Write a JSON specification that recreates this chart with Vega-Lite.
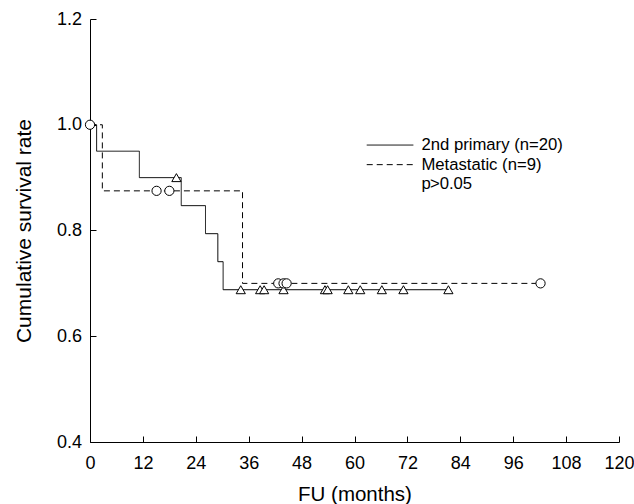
{
  "$schema": "https://vega.github.io/schema/vega-lite/v6.json",
  "width": 529,
  "height": 423,
  "autosize": {"type": "none"},
  "padding": {"left": 90, "top": 19, "right": 15, "bottom": 62},
  "background": "white",
  "config": {
    "view": {"stroke": null},
    "font": "Liberation Sans",
    "axis": {
      "grid": false,
      "domainColor": "black",
      "domainWidth": 1,
      "tickColor": "black",
      "tickWidth": 1,
      "tickSize": -6,
      "labelColor": "black",
      "titleColor": "black",
      "labelFont": "Liberation Sans",
      "titleFont": "Liberation Sans",
      "labelFontSize": 18,
      "titleFontSize": 20.5,
      "titleFontWeight": "normal"
    },
    "legend": {
      "labelFont": "Liberation Sans",
      "labelFontSize": 16.7,
      "labelColor": "black"
    }
  },
  "datasets": {
    "curves": [
      {"series": "2nd primary (n=20)", "month": 0, "surv": 1.0},
      {"series": "2nd primary (n=20)", "month": 1.5, "surv": 0.95},
      {"series": "2nd primary (n=20)", "month": 11.2, "surv": 0.90},
      {"series": "2nd primary (n=20)", "month": 20.7, "surv": 0.847},
      {"series": "2nd primary (n=20)", "month": 26.2, "surv": 0.794},
      {"series": "2nd primary (n=20)", "month": 29.0, "surv": 0.741},
      {"series": "2nd primary (n=20)", "month": 30.2, "surv": 0.688},
      {"series": "2nd primary (n=20)", "month": 81.3, "surv": 0.688},
      {"series": "Metastatic (n=9)", "month": 0, "surv": 1.0},
      {"series": "Metastatic (n=9)", "month": 2.8, "surv": 0.875},
      {"series": "Metastatic (n=9)", "month": 34.6, "surv": 0.70},
      {"series": "Metastatic (n=9)", "month": 102.2, "surv": 0.70}
    ],
    "censorsPrimary": [
      {"month": 19.6, "surv": 0.90},
      {"month": 34.2, "surv": 0.688},
      {"month": 38.6, "surv": 0.688},
      {"month": 39.5, "surv": 0.688},
      {"month": 43.9, "surv": 0.688},
      {"month": 53.3, "surv": 0.688},
      {"month": 53.9, "surv": 0.688},
      {"month": 58.6, "surv": 0.688},
      {"month": 61.3, "surv": 0.688},
      {"month": 66.2, "surv": 0.688},
      {"month": 71.1, "surv": 0.688},
      {"month": 81.3, "surv": 0.688}
    ],
    "censorsMeta": [
      {"month": 0, "surv": 1.0},
      {"month": 15.1, "surv": 0.875},
      {"month": 18.0, "surv": 0.875},
      {"month": 42.7, "surv": 0.70},
      {"month": 43.9, "surv": 0.70},
      {"month": 44.6, "surv": 0.70},
      {"month": 102.2, "surv": 0.70}
    ],
    "notes": [
      {"label": "p", "month": 75.2, "surv": 0.887, "style": "italic"},
      {"label": ">0.05", "month": 77.1, "surv": 0.887, "style": "normal"}
    ]
  },
  "layer": [
    {
      "data": {"name": "curves"},
      "mark": {"type": "line", "interpolate": "step-after", "color": "black", "strokeWidth": 1},
      "encoding": {
        "x": {
          "field": "month", "type": "quantitative",
          "scale": {"domain": [0, 120], "nice": false, "zero": false},
          "axis": {"values": [0, 12, 24, 36, 48, 60, 72, 84, 96, 108, 120], "title": "FU (months)", "labelPadding": 18, "titlePadding": 12, "labelFlush": false}
        },
        "y": {
          "field": "surv", "type": "quantitative",
          "scale": {"domain": [0.4, 1.2], "nice": false, "zero": false},
          "axis": {"values": [0.4, 0.6, 0.8, 1.0, 1.2], "format": ".1f", "title": "Cumulative survival rate", "titleFontSize": 21, "labelPadding": 14.5, "titlePadding": 22, "labelFlush": false}
        },
        "strokeDash": {
          "field": "series", "type": "nominal",
          "scale": {"domain": ["2nd primary (n=20)", "Metastatic (n=9)"], "range": [[1, 0], [6, 4]]},
          "legend": {
            "title": null,
            "orient": "none",
            "legendX": 291.7,
            "legendY": 117.7,
            "symbolType": "M-4,0H4",
            "symbolSize": 136,
            "symbolStrokeWidth": 1,
            "symbolStrokeColor": "black",
            "symbolFillColor": "transparent",
            "labelOffset": 23,
            "rowPadding": 1.6
          }
        }
      }
    },
    {
      "data": {"name": "censorsPrimary"},
      "mark": {"type": "point", "shape": "triangle-up", "filled": false, "fill": "white", "fillOpacity": 1, "stroke": "black", "strokeWidth": 1, "opacity": 1, "size": 85},
      "encoding": {
        "x": {"field": "month", "type": "quantitative"},
        "y": {"field": "surv", "type": "quantitative"}
      }
    },
    {
      "data": {"name": "censorsMeta"},
      "mark": {"type": "point", "shape": "circle", "filled": false, "fill": "white", "fillOpacity": 1, "stroke": "black", "strokeWidth": 1, "opacity": 1, "size": 85},
      "encoding": {
        "x": {"field": "month", "type": "quantitative"},
        "y": {"field": "surv", "type": "quantitative"}
      }
    },
    {
      "data": {"name": "notes"},
      "mark": {"type": "text", "align": "left", "baseline": "middle", "fontSize": 16.7, "color": "black"},
      "encoding": {
        "x": {"field": "month", "type": "quantitative"},
        "y": {"field": "surv", "type": "quantitative"},
        "text": {"field": "label"},
        "fontStyle": {"field": "style", "type": "nominal", "scale": null}
      }
    }
  ]
}
